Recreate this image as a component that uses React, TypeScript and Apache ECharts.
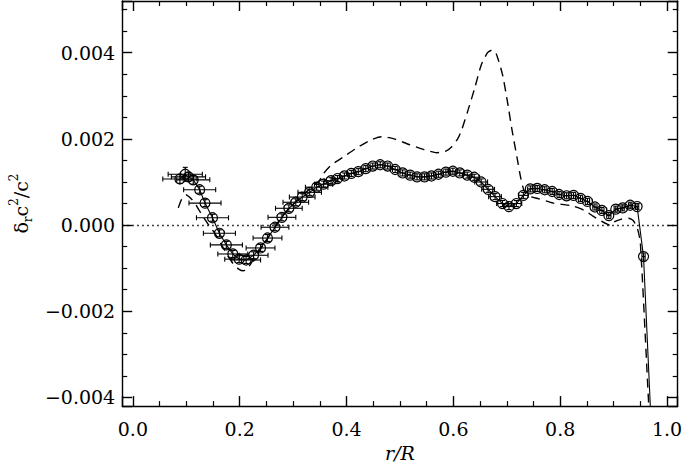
import React, { useEffect, useRef } from "react";
import * as echarts from "echarts";

// Observed inversion: r/R, relative sound-speed-squared difference, errors
const obsR = [
  0.088, 0.098, 0.104, 0.113, 0.125, 0.135, 0.149, 0.162, 0.175, 0.187,
  0.199, 0.212, 0.226, 0.239, 0.252, 0.266, 0.279, 0.292, 0.305, 0.317,
  0.331, 0.344, 0.357, 0.371, 0.383, 0.396, 0.409, 0.422, 0.436, 0.449,
  0.463, 0.477, 0.491, 0.505, 0.519, 0.532, 0.546, 0.559, 0.572, 0.586,
  0.599, 0.612, 0.626, 0.639, 0.652, 0.665, 0.678, 0.692, 0.704, 0.718,
  0.731, 0.744, 0.757, 0.771, 0.785, 0.798, 0.812, 0.825, 0.838, 0.851,
  0.865, 0.878, 0.891, 0.904, 0.917, 0.931, 0.944, 0.956, 0.970,
];
const obsD = [
  0.00107, 0.00118, 0.00112, 0.00105, 0.00082, 0.00051, 0.00017, -0.00019, -0.00046, -0.00067,
  -0.00079, -0.00081, -0.0007, -0.00053, -0.0003, -0.00005, 0.00018, 0.00039, 0.00053, 0.00065,
  0.00076, 0.00088, 0.00095, 0.00103, 0.00108, 0.00114, 0.0012, 0.00124, 0.00131, 0.00137,
  0.0014, 0.00137, 0.00129, 0.00121, 0.00116, 0.00112, 0.00112, 0.00114, 0.00118, 0.00123,
  0.00125, 0.00121, 0.00116, 0.00111, 0.001, 0.00083, 0.00066, 0.0005, 0.00043, 0.0005,
  0.00069, 0.00084, 0.00085, 0.00082, 0.00078, 0.00071, 0.00068, 0.00069, 0.00062, 0.00055,
  0.00042, 0.00034, 0.00022, 0.00037, 0.0004, 0.00046, 0.00043, -0.00073, -0.00455,
];
const obsErrR = [
  0.032, 0.032, 0.032, 0.031, 0.03, 0.03, 0.03, 0.03, 0.03, 0.028,
  0.027, 0.027, 0.027, 0.027, 0.027, 0.026, 0.026, 0.025, 0.024, 0.024,
  0.022, 0.021, 0.017, 0.013, 0.01, 0.008, 0.007, 0.006, 0.005, 0.005,
  0.005, 0.005, 0.005, 0.005, 0.005, 0.005, 0.005, 0.005, 0.005, 0.005,
  0.006, 0.007, 0.008, 0.01, 0.012, 0.012, 0.012, 0.011, 0.01, 0.01,
  0.009, 0.005, 0.004, 0.004, 0.004, 0.004, 0.004, 0.004, 0.004, 0.004,
  0.004, 0.004, 0.004, 0.003, 0.003, 0.003, 0.003, 0.003, 0.003,
];
const obsErrD = [
  0.0001, 0.00016, 0.0001, 0.0001, 0.00008, 0.00008, 0.00008, 0.00008, 0.00008, 0.00008,
  0.00008, 0.00008, 0.00008, 0.00008, 0.00008, 0.00008, 0.00008, 0.00008, 0.00008, 0.00008,
  0.00007, 0.00007, 0.00007, 0.00007, 0.00007, 0.00007, 0.00007, 0.00007, 0.00007, 0.00007,
  0.00007, 0.00007, 0.00007, 0.00007, 0.00007, 0.00007, 0.00007, 0.00007, 0.00007, 0.00007,
  0.00007, 0.00007, 0.00007, 0.00007, 0.00007, 0.00007, 0.00007, 0.00007, 0.00007, 0.00007,
  0.00007, 0.00007, 0.00007, 0.00007, 0.00007, 0.00007, 0.00007, 0.00007, 0.00007, 0.00007,
  0.00007, 0.00007, 0.00007, 0.00007, 0.00007, 0.00007, 0.00007, 0.00008, 0.0001,
];

// Model curve (dashed)
const modelR = [
  0.085, 0.092, 0.1, 0.11, 0.118, 0.13, 0.142, 0.155, 0.167, 0.178,
  0.188, 0.198, 0.207, 0.215, 0.222, 0.232, 0.245, 0.26, 0.275, 0.29,
  0.305, 0.32, 0.335, 0.35, 0.357, 0.372, 0.394, 0.418, 0.443, 0.465,
  0.48, 0.492, 0.517, 0.545, 0.569, 0.585, 0.597, 0.608, 0.615, 0.627,
  0.64, 0.652, 0.664, 0.672, 0.68, 0.692, 0.701, 0.71, 0.719, 0.726,
  0.733, 0.745, 0.76, 0.787, 0.81, 0.824, 0.838, 0.848, 0.86, 0.873,
  0.888, 0.894, 0.902, 0.915, 0.928, 0.937, 0.945, 0.95, 0.965, 0.97,
];
const modelD = [
  0.0004, 0.00062, 0.0007, 0.0006, 0.00047, 0.00022, 0.0, -0.00022, -0.00048, -0.00072,
  -0.0009, -0.00102, -0.00106, -0.001, -0.00087, -0.00068, -0.00045, -0.00016, 0.00012, 0.00036,
  0.00055, 0.00072, 0.00088, 0.00105, 0.0012, 0.0014, 0.00158, 0.00178, 0.00196, 0.00205,
  0.00203, 0.00199, 0.00187, 0.00175, 0.00168, 0.00171, 0.00182, 0.002, 0.00219, 0.00265,
  0.00318, 0.00371, 0.004, 0.00406, 0.00398, 0.00349, 0.00288, 0.00219, 0.00158, 0.0011,
  0.00078, 0.00066, 0.00061, 0.00051, 0.00047, 0.00044, 0.00038, 0.00032, 0.00022, 0.00012,
  0.00002, -0.00001, 0.00008, 0.00014, 0.00016, 0.0001, -0.0001, -0.0004, -0.004, -0.0052,
];

const X_MIN = -0.02;
const X_MAX = 1.02;
const Y_MIN = -0.0042;
const Y_MAX = 0.0052;

const FONT = "DejaVu Serif";

export default function App() {
  const ref = useRef<HTMLDivElement>(null);

  useEffect(() => {
    if (!ref.current) return;
    const chart = echarts.init(ref.current, null, { renderer: "svg" });

    const obs = obsR.map((r, i) => [r, obsD[i]]);
    const errs = obsR.map((r, i) => [r, obsD[i], obsErrR[i], obsErrD[i]]);
    const model = modelR.map((r, i) => [r, modelD[i]]);

    const lineStyle = { color: "#000", width: 1.4 };
    const tickStyle = { color: "#000", width: 1.4 };

    const isMult = (v: number, step: number) =>
      Math.abs(v / step - Math.round(v / step)) < 1e-6;

    const xFmt = (v: number) => (isMult(v, 0.2) ? v.toFixed(1) : "");
    const yFmt = (v: number) =>
      isMult(v, 0.002) ? (v < -1e-9 ? "\u2212" + Math.abs(v).toFixed(3) : Math.abs(v).toFixed(3)) : "";

    const xCommon = {
      type: "value",
      min: X_MIN,
      max: X_MAX,
      axisLine: { show: true, onZero: false, lineStyle },
      axisTick: { show: true, inside: true, length: 10, lineStyle: tickStyle },
      minorTick: { show: true, splitNumber: 4, length: 5, lineStyle: { color: "#000", width: 1.2 } },
      splitLine: { show: false },
      minorSplitLine: { show: false },
    };
    const yCommon = {
      type: "value",
      min: Y_MIN,
      max: Y_MAX,
      axisLine: { show: true, onZero: false, lineStyle },
      axisTick: { show: true, inside: true, length: 10, lineStyle: tickStyle },
      minorTick: { show: true, splitNumber: 4, length: 5, lineStyle: { color: "#000", width: 1.2 } },
      splitLine: { show: false },
      minorSplitLine: { show: false },
    };

    chart.setOption({
      animation: false,
      backgroundColor: "#fff",
      grid: { left: 115, top: 1, width: 565, height: 411, containLabel: false },
      xAxis: [
        {
          ...xCommon,
          position: "bottom",
          name: "r/R",
          nameLocation: "middle",
          nameGap: 36,
          nameTextStyle: { fontFamily: FONT, fontSize: 19, fontStyle: "italic", color: "#000" },
          axisLabel: {
            show: true,
            margin: 13,
            formatter: xFmt,
            fontFamily: FONT,
            fontSize: 19,
            color: "#000",
          },
        },
        {
          ...xCommon,
          position: "top",
          axisLabel: { show: false },
        },
      ],
      yAxis: [
        {
          ...yCommon,
          position: "left",
          name: "{a|\u03b4}{sub|r}{a|c}{sup|2}{a|/c}{sup|2}",
          nameLocation: "middle",
          nameGap: 76,
          nameRotate: 90,
          nameTextStyle: {
            color: "#000",
            rich: {
              a: { fontFamily: FONT, fontSize: 19, lineHeight: 26, color: "#000" },
              sup: { fontFamily: FONT, fontSize: 12, lineHeight: 12, verticalAlign: "top", color: "#000" },
              sub: { fontFamily: FONT, fontSize: 12, lineHeight: 12, verticalAlign: "bottom", color: "#000" },
            },
          },
          axisLabel: {
            show: true,
            margin: 7,
            formatter: yFmt,
            fontFamily: FONT,
            fontSize: 19,
            color: "#000",
          },
        },
        {
          ...yCommon,
          position: "right",
          axisLabel: { show: false },
        },
      ],
      series: [
        {
          name: "zero",
          type: "line",
          data: [],
          silent: true,
          markLine: {
            silent: true,
            symbol: "none",
            label: { show: false },
            lineStyle: { color: "#000", type: [1.5, 3.5], width: 1.3 },
            data: [{ yAxis: 0 }],
          },
        },
        {
          name: "model",
          type: "line",
          data: model,
          showSymbol: false,
          symbol: "none",
          smooth: 0.2,
          clip: true,
          lineStyle: { color: "#000", width: 1.4, type: [9, 6] },
        },
        {
          name: "errors",
          type: "custom",
          data: errs,
          clip: true,
          renderItem: (params: any, api: any) => {
            const x = api.value(0);
            const y = api.value(1);
            const ex = api.value(2);
            const ey = api.value(3);
            const l = api.coord([x - ex, y]);
            const r = api.coord([x + ex, y]);
            const t = api.coord([x, y + ey]);
            const b = api.coord([x, y - ey]);
            const cap = 2.5;
            const style = { stroke: "#000", lineWidth: 1.1, fill: null };
            return {
              type: "group",
              children: [
                { type: "line", shape: { x1: l[0], y1: l[1], x2: r[0], y2: r[1] }, style },
                { type: "line", shape: { x1: l[0], y1: l[1] - cap, x2: l[0], y2: l[1] + cap }, style },
                { type: "line", shape: { x1: r[0], y1: r[1] - cap, x2: r[0], y2: r[1] + cap }, style },
                { type: "line", shape: { x1: t[0], y1: t[1], x2: b[0], y2: b[1] }, style },
                { type: "line", shape: { x1: t[0] - cap, y1: t[1], x2: t[0] + cap, y2: t[1] }, style },
                { type: "line", shape: { x1: b[0] - cap, y1: b[1], x2: b[0] + cap, y2: b[1] }, style },
              ],
            };
          },
        },
        {
          name: "observed",
          type: "line",
          data: obs,
          clip: true,
          symbol: "circle",
          symbolSize: 10,
          showAllSymbol: true,
          itemStyle: { color: "rgba(255,255,255,0)", borderColor: "#000", borderWidth: 1.2 },
          lineStyle: { color: "#000", width: 1.1 },
        },
      ],
    });

    return () => chart.dispose();
  }, []);

  return (
    <div
      ref={ref}
      style={{ position: "fixed", left: 0, top: 0, width: 685, height: 467, background: "#fff" }}
    />
  );
}
